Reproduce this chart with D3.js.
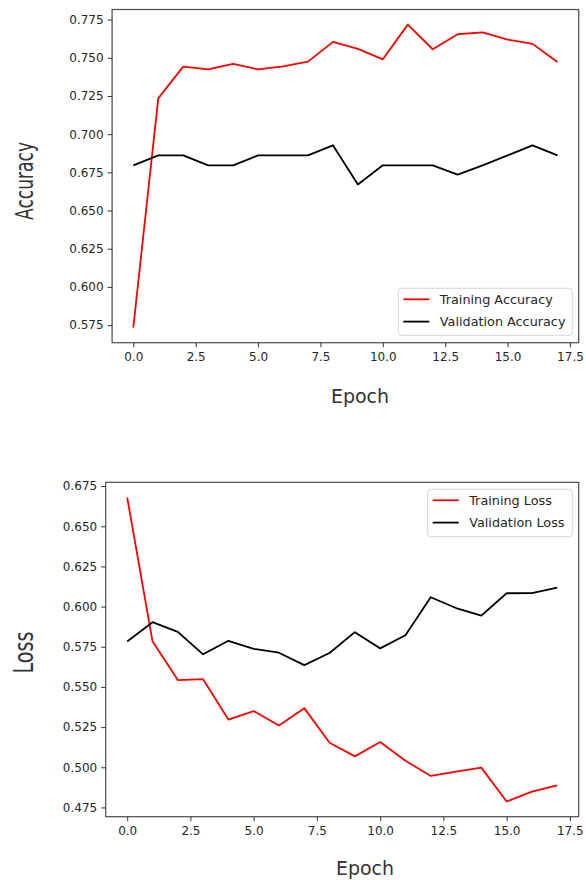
<!DOCTYPE html>
<html>
<head>
<meta charset="utf-8">
<script src="https://cdn.jsdelivr.net/npm/d3@7"></script>
<style>
    body { margin: 0; background: #fff; }
    svg { display: block; font-family: "DejaVu Sans", sans-serif; }
</style>
</head>
<body>
<div id="chart"></div>
<script>
var epochs = [0, 1, 2, 3, 4, 5, 6, 7, 8, 9, 10, 11, 12, 13, 14, 15, 16, 17];

var trainAcc = [0.5734, 0.7234, 0.7442, 0.7424, 0.7460, 0.7424, 0.7444, 0.7475, 0.7604,
    0.7558, 0.7490, 0.7717, 0.7556, 0.7654, 0.7667, 0.7619, 0.7591, 0.7473];
var valAcc = [0.6796, 0.6861, 0.6861, 0.6796, 0.6796, 0.6861, 0.6861, 0.6861, 0.6927,
    0.6671, 0.6796, 0.6796, 0.6796, 0.6735, 0.6796, 0.6861, 0.6927, 0.6861];

var trainLoss = [0.6679, 0.5785, 0.5543, 0.5548, 0.5297, 0.5350, 0.5260, 0.5368, 0.5153,
    0.5068, 0.5157, 0.5041, 0.4946, 0.4973, 0.4998, 0.4787, 0.4849, 0.4888];
var valLoss = [0.5783, 0.5903, 0.5843, 0.5703, 0.5787, 0.5737, 0.5713, 0.5636, 0.5711,
    0.5841, 0.5740, 0.5822, 0.6058, 0.5991, 0.5944, 0.6083, 0.6084, 0.6118];

var xTicks = [0, 2.5, 5, 7.5, 10, 12.5, 15, 17.5];
var accTicks = [0.575, 0.600, 0.625, 0.650, 0.675, 0.700, 0.725, 0.750, 0.775];
var lossTicks = [0.475, 0.500, 0.525, 0.550, 0.575, 0.600, 0.625, 0.650, 0.675];

var accLabels = ["Training Accuracy", "Validation Accuracy"];
var lossLabels = ["Training Loss", "Validation Loss"];

var svg = d3.select("#chart").append("svg")
    .attr("width", 586)
    .attr("height", 880);

function padded(values) {
    var lo = d3.min(values), hi = d3.max(values);
    var pad = (hi - lo) * 0.05;
    return [lo - pad, hi + pad];
}

function drawPanel(p) {
    var x = d3.scaleLinear()
        .domain([-0.85, 17.85])
        .range([p.left, p.right]);
    var y = d3.scaleLinear()
        .domain(padded(p.series[0].concat(p.series[1])))
        .range([p.bottom, p.top]);

    var g = svg.append("g");

    var line = d3.line()
        .x(function(d, i) { return x(epochs[i]); })
        .y(function(d) { return y(d); });

    var colors = ["#ff0000", "#000000"];
    p.series.forEach(function(s, i) {
        g.append("path")
            .datum(s)
            .attr("fill", "none")
            .attr("stroke", colors[i])
            .attr("stroke-width", 1.8)
            .attr("stroke-linejoin", "round")
            .attr("d", line);
    });

    // frame
    g.append("rect")
        .attr("x", p.left)
        .attr("y", p.top)
        .attr("width", p.right - p.left)
        .attr("height", p.bottom - p.top)
        .attr("fill", "none")
        .attr("stroke", "#4a4a4a")
        .attr("stroke-width", 1.2);

    var xAxis = g.append("g")
        .attr("transform", "translate(0," + p.bottom + ")")
        .call(d3.axisBottom(x).tickValues(xTicks).tickFormat(d3.format(".1f")).tickSize(4.5).tickPadding(5));
    var yAxis = g.append("g")
        .attr("transform", "translate(" + p.left + ",0)")
        .call(d3.axisLeft(y).tickValues(p.yTicks).tickFormat(d3.format(".3f")).tickSize(4.5).tickPadding(4));

    [xAxis, yAxis].forEach(function(a) {
        a.select(".domain").remove();
        a.selectAll("line").attr("stroke", "#333");
        a.selectAll("text")
            .attr("fill", "#262626")
            .style("font-family", "DejaVu Sans")
            .style("font-size", "12px");
    });

    // axis titles
    g.append("text")
        .attr("x", p.xLabelX)
        .attr("y", p.xLabelY)
        .attr("text-anchor", "middle")
        .attr("fill", "#333")
        .style("font-size", "19px")
        .text("Epoch");

    g.append("text")
        .attr("transform", "translate(" + p.yLabelX + "," + p.yLabelY + ") rotate(-90)")
        .attr("text-anchor", "middle")
        .attr("fill", "#333")
        .attr("textLength", p.yLabelLen)
        .attr("lengthAdjust", "spacingAndGlyphs")
        .style("font-size", p.yLabelSize + "px")
        .text(p.yLabel);

    // legend
    var lg = g.append("g");
    lg.append("rect")
        .attr("x", p.legend.x)
        .attr("y", p.legend.y)
        .attr("width", p.legend.w)
        .attr("height", p.legend.h)
        .attr("rx", 3)
        .attr("fill", "rgba(255,255,255,0.85)")
        .attr("stroke", "#d6d6d6");
    p.labels.forEach(function(lab, i) {
        var cy = p.legend.y + 11 + i * 22.3;
        lg.append("line")
            .attr("x1", p.legend.x + 5)
            .attr("x2", p.legend.x + 31)
            .attr("y1", cy)
            .attr("y2", cy)
            .attr("stroke", colors[i])
            .attr("stroke-width", 1.8);
        lg.append("text")
            .attr("x", p.legend.x + 41.5)
            .attr("y", cy + 4.5)
            .attr("fill", "#262626")
            .style("font-size", "12.8px")
            .text(lab);
    });
}

drawPanel({
    left: 112.1, right: 578.7, top: 9.5, bottom: 342.7,
    series: [trainAcc, valAcc],
    yTicks: accTicks,
    labels: accLabels,
    yLabel: "Accuracy", yLabelX: 33, yLabelY: 181, yLabelLen: 78, yLabelSize: 24,
    xLabelX: 360, xLabelY: 403,
    legend: { x: 398.3, y: 288.3, w: 174, h: 47 }
});

drawPanel({
    left: 105.7, right: 578.7, top: 482.3, bottom: 816.7,
    series: [trainLoss, valLoss],
    yTicks: lossTicks,
    labels: lossLabels,
    yLabel: "Loss", yLabelX: 33, yLabelY: 652.5, yLabelLen: 42, yLabelSize: 27,
    xLabelX: 365, xLabelY: 875,
    legend: { x: 427.7, y: 489.3, w: 144.6, h: 47.4 }
});
</script>
</body>
</html>
